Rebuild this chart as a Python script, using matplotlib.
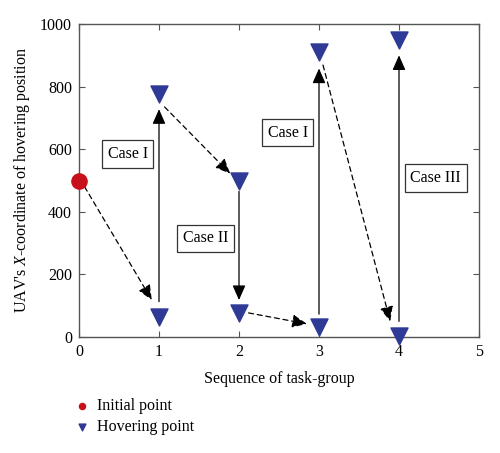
import matplotlib
matplotlib.use("Agg")
import matplotlib.pyplot as plt

# Data
init_seq = [0]
init_x = [500]
hover_seq = [1, 1, 2, 2, 3, 3, 4, 4]
hover_x = [65, 776, 500, 77, 32, 910, 4, 950]

# transitions: (start, end, dashed?)
moves = [
    ((0.07, 480), (0.91, 118), True),
    ((1.0, 113), (1.0, 728), False),
    ((1.07, 735), (1.89, 522), True),
    ((2.0, 465), (2.0, 118), False),
    ((2.12, 77), (2.85, 42), True),
    ((3.0, 73), (3.0, 858), False),
    ((3.05, 869), (3.89, 50), True),
    ((4.0, 50), (4.0, 900), False),
]

case_labels = ["Case I", "Case II", "Case I", "Case III"]
case_pos = [(0.61, 585), (1.58, 316), (2.61, 653), (4.46, 508)]

x_ticks = [0, 1, 2, 3, 4, 5]
y_ticks = [0, 200, 400, 600, 800, 1000]

plt.rcParams["font.family"] = ["Liberation Serif", "DejaVu Serif"]
plt.rcParams["mathtext.fontset"] = "custom"
plt.rcParams["mathtext.it"] = "Liberation Serif:italic"
plt.rcParams["mathtext.rm"] = "Liberation Serif"

red = "#c8101a"
blue = "#2f3a96"
axcol = "#555555"

fig = plt.figure(figsize=(5.0, 4.53), dpi=100)
ax = fig.add_axes([0.158, 0.256, 0.8, 0.691])

for (x0, y0), (x1, y1), dashed in moves:
    ax.annotate("", xy=(x1, y1), xytext=(x0, y0),
                arrowprops=dict(arrowstyle="-|>,head_length=0.5,head_width=0.22",
                                color="black", lw=0.9,
                                linestyle=(0, (4, 3)) if dashed else "-",
                                mutation_scale=18, shrinkA=0, shrinkB=0),
                zorder=2)

ax.scatter(init_seq, init_x, s=120, color=red, zorder=4, clip_on=False,
           label="Initial point")
ax.scatter(hover_seq, hover_x, s=150, marker="v", color=blue, zorder=4,
           clip_on=False, label="Hovering point")

for txt, (tx, ty) in zip(case_labels, case_pos):
    ax.text(tx, ty, txt, ha="center", va="center", fontsize=11.5,
            bbox=dict(boxstyle="square,pad=0.35", fc="white", ec="#333333", lw=0.9))

ax.set_xlim(0, 5)
ax.set_ylim(0, 1000)
ax.set_xticks(x_ticks)
ax.set_yticks(y_ticks)
ax.tick_params(direction="in", top=True, right=True, labelsize=11.5,
               length=4, color=axcol, pad=5)
for sp in ax.spines.values():
    sp.set_color(axcol)
    sp.set_linewidth(1.0)

ax.set_xlabel("Sequence of task-group", fontsize=11.5, labelpad=8)
ax.set_ylabel("UAV's $X$-coordinate of hovering position", fontsize=11.5, labelpad=6)

leg = fig.legend(loc="upper left", bbox_to_anchor=(0.12, 0.153), frameon=False,
                 fontsize=11.5, markerscale=0.4, handletextpad=0.4,
                 labelspacing=0.3, handlelength=1.0)

fig.savefig("out.png", dpi=100)
